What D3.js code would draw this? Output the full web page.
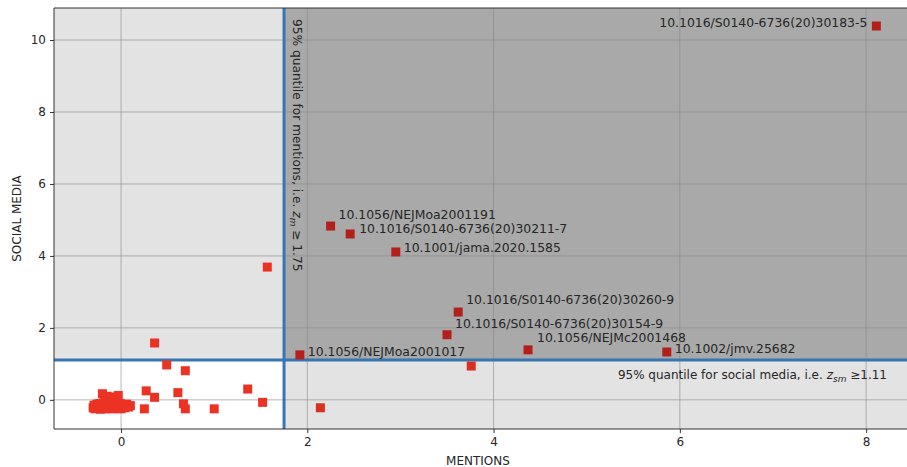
<!DOCTYPE html>
<html>
<head>
<meta charset="utf-8">
<script src="https://cdn.jsdelivr.net/npm/d3@7"></script>
<style>
  body { margin: 0; background: white; }
  svg { display: block; overflow: hidden; }
  text { font-family: "DejaVu Sans", sans-serif; fill: #262626; }
</style>
</head>
<body>
<script>
// labelled papers (top right quadrant)
var labels = ["10.1016/S0140-6736(20)30183-5", "10.1056/NEJMoa2001191", "10.1016/S0140-6736(20)30211-7",
              "10.1001/jama.2020.1585", "10.1016/S0140-6736(20)30260-9", "10.1016/S0140-6736(20)30154-9",
              "10.1056/NEJMc2001468", "10.1002/jmv.25682", "10.1056/NEJMoa2001017"];
var labelMentions = [8.11, 2.25, 2.46, 2.95, 3.62, 3.50, 4.37, 5.86, 1.92];
var labelSocial   = [10.39, 4.83, 4.61, 4.11, 2.44, 1.81, 1.39, 1.33, 1.25];

// all the other papers
var otherMentions = [1.57, 3.76, 2.14, 0.36, 0.49, 0.69, 0.27, 0.36, 0.61, 0.67, 0.69, 0.25, 1.00, 1.36, 1.52,
  -0.30, -0.29, -0.28, -0.27, -0.26, -0.25, -0.24, -0.23, -0.22, -0.21, -0.20, -0.19, -0.18, -0.18, -0.17,
  -0.16, -0.15, -0.14, -0.13, -0.12, -0.11, -0.10, -0.09, -0.08, -0.07, -0.06, -0.05, -0.04, -0.03, -0.02,
  -0.01, 0.00, 0.02, 0.04, 0.06, 0.08, 0.10];
var otherSocial = [3.69, 0.94, -0.22, 1.58, 0.97, 0.81, 0.25, 0.07, 0.20, -0.11, -0.25, -0.25, -0.25, 0.30, -0.07,
  -0.22, -0.15, -0.25, -0.18, -0.12, -0.24, -0.20, -0.10, -0.26, -0.16, 0.17, -0.22, 0.05, -0.12, -0.25,
  -0.18, 0.10, -0.08, -0.23, -0.14, -0.20, 0.02, -0.25, -0.11, -0.19, 0.08, -0.24, -0.15, 0.12, -0.21,
  -0.10, -0.25, -0.17, -0.22, -0.12, -0.20, -0.16];

var xTicks = [0, 2, 4, 6, 8];
var yTicks = [0, 2, 4, 6, 8, 10];
var qMentions = 1.75, qSocial = 1.11;

// where each label sits relative to its marker (pixels)
var labelOffsets = [[-9, 1, "end"], [8, -7, "start"], [9, -1, "start"], [8, 0, "start"], [8, -8, "start"],
                    [8, -7, "start"], [9, -8, "start"], [8, 1, "start"], [8, 1, "start"]];

var W = 907, H = 467;
var pLeft = 54, pTop = 8, pBottom = 429, pRight = 922;

var x = d3.scaleLinear().domain([-0.72, 8.6]).range([pLeft, pRight]);
var y = d3.scaleLinear().domain([-0.81, 10.89]).range([pBottom, pTop]);

var svg = d3.select("body").append("svg")
    .attr("width", W)
    .attr("height", H);

var defs = svg.append("defs");
defs.append("clipPath").attr("id", "plot")
  .append("rect").attr("x", pLeft).attr("y", pTop).attr("width", pRight - pLeft).attr("height", pBottom - pTop);

var plot = svg.append("g").attr("clip-path", "url(#plot)");

// quadrant backgrounds
var xq = x(qMentions), yq = y(qSocial);
plot.append("rect").attr("x", pLeft).attr("y", pTop).attr("width", xq - pLeft).attr("height", yq - pTop).style("fill", "#e3e3e3");
plot.append("rect").attr("x", xq).attr("y", pTop).attr("width", pRight - xq).attr("height", yq - pTop).style("fill", "#a9a9a9");
plot.append("rect").attr("x", xq).attr("y", yq).attr("width", pRight - xq).attr("height", pBottom - yq).style("fill", "#e3e3e3");

// grid
plot.selectAll(".gx").data(xTicks).enter().append("line")
    .attr("x1", function(d) { return x(d); }).attr("x2", function(d) { return x(d); })
    .attr("y1", pTop).attr("y2", pBottom)
    .style("stroke", "#888").style("stroke-opacity", 0.6).style("stroke-width", 1);
plot.selectAll(".gy").data(yTicks).enter().append("line")
    .attr("y1", function(d) { return y(d); }).attr("y2", function(d) { return y(d); })
    .attr("x1", pLeft).attr("x2", pRight)
    .style("stroke", "#888").style("stroke-opacity", 0.6).style("stroke-width", 1);

// quantile lines
plot.append("line").attr("x1", xq).attr("x2", xq).attr("y1", pTop).attr("y2", pBottom)
    .style("stroke", "#3776b0").style("stroke-width", 3);
plot.append("line").attr("x1", pLeft).attr("x2", pRight).attr("y1", yq).attr("y2", yq)
    .style("stroke", "#3776b0").style("stroke-width", 3);

var s = 9;
var others = otherMentions.map(function(m, i) { return {m: m, s: otherSocial[i]}; });
plot.selectAll(".other").data(others).enter().append("rect")
    .attr("x", function(d) { return x(d.m) - s / 2; })
    .attr("y", function(d) { return y(d.s) - s / 2; })
    .attr("width", s).attr("height", s)
    .style("fill", function(d) { return d.m > qMentions ? "#d9301f" : "#ec3323"; });

var top10 = labels.map(function(l, i) { return {l: l, m: labelMentions[i], s: labelSocial[i], o: labelOffsets[i]}; });
plot.selectAll(".lab").data(top10).enter().append("rect")
    .attr("x", function(d) { return x(d.m) - s / 2; })
    .attr("y", function(d) { return y(d.s) - s / 2; })
    .attr("width", s).attr("height", s)
    .style("fill", "#b3201b");

plot.selectAll(".labtext").data(top10).enter().append("text")
    .attr("x", function(d) { return x(d.m) + d.o[0]; })
    .attr("y", function(d) { return y(d.s) + d.o[1]; })
    .attr("text-anchor", function(d) { return d.o[2]; })
    .style("font-size", "12.4px")
    .text(function(d) { return d.l; });

// quantile captions
var vt = plot.append("text")
    .attr("transform", "translate(" + (xq + 9) + "," + (pTop + 11) + ")rotate(90)")
    .style("font-size", "12.2px");
vt.append("tspan").text("95% quantile for mentions, i.e. ");
vt.append("tspan").style("font-style", "italic").text("z");
vt.append("tspan").style("font-style", "italic").style("font-size", "9px").attr("dy", 3).text("m");
vt.append("tspan").attr("dy", -3).text(" \u2265 1.75");

var ht = plot.append("text")
    .attr("x", 887).attr("y", yq + 19)
    .attr("text-anchor", "end")
    .style("font-size", "12px");
ht.append("tspan").text("95% quantile for social media, i.e. ");
ht.append("tspan").style("font-style", "italic").text("z");
ht.append("tspan").style("font-style", "italic").style("font-size", "9px").attr("dy", 3).text("sm");
ht.append("tspan").attr("dy", -3).text(" \u22651.11");

// frame
svg.append("path")
    .attr("d", "M" + pRight + "," + pTop + "H" + pLeft + "V" + pBottom + "H" + pRight)
    .style("fill", "none").style("stroke", "#333").style("stroke-width", 1);

// axes
var xAxis = svg.append("g")
    .attr("transform", "translate(0," + pBottom + ")")
    .call(d3.axisBottom(x).tickValues(xTicks).tickSize(4).tickPadding(4));
var yAxis = svg.append("g")
    .attr("transform", "translate(" + pLeft + ",0)")
    .call(d3.axisLeft(y).tickValues(yTicks).tickSize(4).tickPadding(4));
[xAxis, yAxis].forEach(function(a) {
  a.select(".domain").remove();
  a.selectAll("line").style("stroke", "#333");
  a.selectAll("text").style("font-family", "DejaVu Sans").style("font-size", "12px").style("fill", "#262626");
});

// axis titles
svg.append("text")
    .attr("x", 478).attr("y", 465)
    .attr("text-anchor", "middle")
    .style("font-size", "12px")
    .text("MENTIONS");
svg.append("text")
    .attr("text-anchor", "middle")
    .attr("transform", "translate(21," + ((pTop + pBottom) / 2) + ")rotate(-90)")
    .style("font-size", "12px")
    .text("SOCIAL MEDIA");
</script>
</body>
</html>
